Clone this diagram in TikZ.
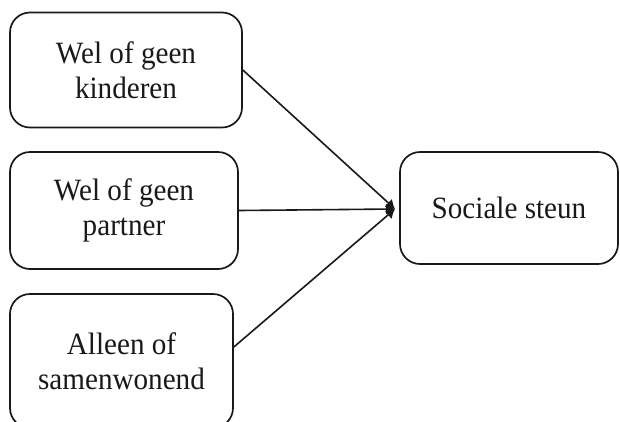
\documentclass[tikz,border=0pt]{standalone}
\usepackage{fontspec}
\setmainfont{Liberation Serif}[FakeStretch=0.94]
\usetikzlibrary{arrows.meta,calc}
\begin{document}
\begin{tikzpicture}[x=1pt,y=-1pt,
  box/.style={draw=black!90, line width=1.7pt, rounded corners=20pt, align=center,
    font=\fontsize{31}{35}\selectfont, inner sep=0pt, text=black!90},
  arr/.style={draw=black!90, line width=1.6pt, -{Latex[length=9pt,width=11pt]}}]
\useasboundingbox (0,0) rectangle (620,421);
\clip (0,0) rectangle (620,421);
\fill[white] (0,0) rectangle (620,421);
\node[box, minimum width=232pt, minimum height=115pt] (a) at (126,70) {Wel of geen\\kinderen};
\node[box, minimum width=228pt, minimum height=117pt] (b) at (124,210.5) {Wel of geen\\partner};
\node[box, minimum width=223pt, minimum height=134pt] (c) at (121.5,361) {Alleen of\\samenwonend};
\node[box, minimum width=218pt, minimum height=112pt] (d) at (509,208) {Sociale steun};
\coordinate (t) at (395,209);
\draw[arr] (a.east) -- (t);
\draw[arr] (b.east) -- (t);
\draw[arr] ($(c.east)+(0,-14)$) -- (t);
\end{tikzpicture}
\end{document}
